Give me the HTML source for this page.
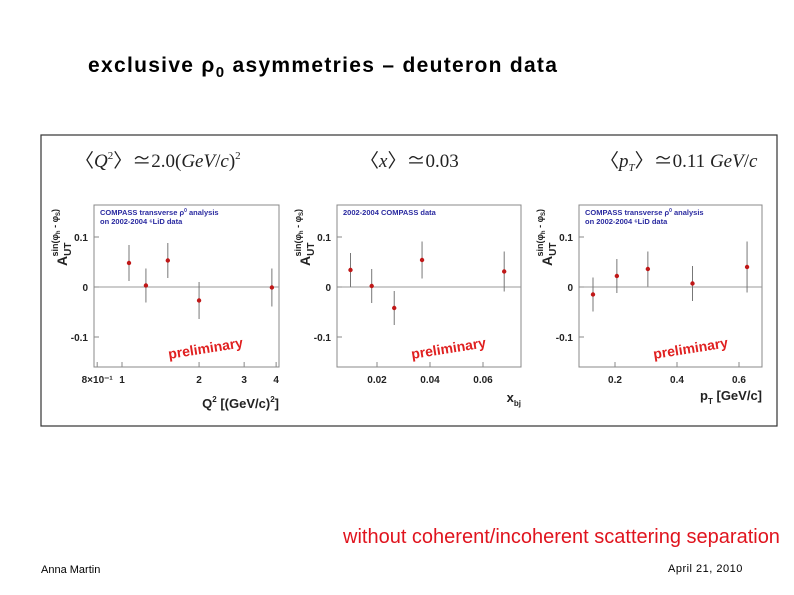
<!DOCTYPE html>
<html><head><meta charset="utf-8"><style>
body{margin:0;background:#fff;}
svg{display:block;font-family:"Liberation Sans",sans-serif;}
</style></head><body>
<svg id="s" width="794" height="595" viewBox="0 0 794 595">
<text x="88" y="72" font-size="21" font-weight="bold" letter-spacing="1.3" fill="#000">exclusive ρ<tspan font-size="15" dy="5">0</tspan><tspan dy="-5"> asymmetries – deuteron data</tspan></text>
<rect x="41" y="135" width="736" height="291" fill="none" stroke="#333" stroke-width="1.2"/>
<g font-family="Liberation Serif,serif" font-size="19" fill="#222">
<text x="75" y="167">〈<tspan font-style="italic">Q</tspan><tspan font-size="11" dy="-8">2</tspan><tspan dy="8">〉≃2.0(</tspan><tspan font-style="italic">GeV</tspan>/<tspan font-style="italic">c</tspan>)<tspan font-size="11" dy="-8">2</tspan></text>
<text x="360" y="167">〈<tspan font-style="italic">x</tspan>〉≃0.03</text>
<text x="600" y="167">〈<tspan font-style="italic">p<tspan font-size="11" dy="4">T</tspan></tspan><tspan dy="-4">〉≃0.11</tspan> <tspan font-style="italic">GeV</tspan>/<tspan font-style="italic">c</tspan></text>
</g>
<g id="panels"></g>
<text x="343" y="543" font-size="20" fill="#e0141e">without coherent/incoherent scattering separation</text>
<text x="41" y="573" font-size="11" fill="#000">Anna Martin</text>
<text x="668" y="572" font-size="11" letter-spacing="0.5" fill="#000">April 21, 2010</text>
</svg>
<script>
// Panel 1: Q2 (log axis)
const q2Values=[1.065,1.24,1.51,2.0,3.85];
const q2Asym=[0.048,0.003,0.053,-0.027,-0.001];
const q2Err=[0.036,0.034,0.035,0.037,0.038];
const q2TickLabels=["8×10⁻¹","1","2","3","4"];
const q2TickValues=[0.8,1,2,3,4];
// Panel 2: xbj
const xValues=[0.0100,0.018,0.0265,0.037,0.068];
const xAsym=[0.034,0.002,-0.042,0.054,0.031];
const xErr=[0.034,0.034,0.034,0.037,0.040];
const xTickValues=[0.02,0.04,0.06];
const xTickLabels=["0.02","0.04","0.06"];
// Panel 3: pT
const ptValues=[0.129,0.206,0.306,0.45,0.626];
const ptAsym=[-0.015,0.022,0.036,0.007,0.040];
const ptErr=[0.034,0.034,0.035,0.035,0.051];
const ptTickValues=[0.2,0.4,0.6];
const ptTickLabels=["0.2","0.4","0.6"];
const yTickValues=[0.1,0,-0.1];
const yTickLabels=["0.1","0","-0.1"];

const NS="http://www.w3.org/2000/svg";
const root=document.getElementById('panels');
function mk(tag,attrs,parent,text){const e=document.createElementNS(NS,tag);for(const k in attrs)e.setAttribute(k,attrs[k]);if(text!==undefined)e.textContent=text;(parent||root).appendChild(e);return e;}

function panel(cfg){
  const g=mk('g',{});
  
  
  const L=cfg.left,R=cfg.right,T=205,B=367;
  const yS=v=>287-v*500;
  const xS=cfg.log? v=>cfg.x0+Math.log10(v/cfg.v0)*cfg.k : v=>cfg.x0+(v-cfg.v0)*cfg.k;
  const fr=mk('rect',{x:L,y:T,width:R-L,height:B-T,fill:'#fff',stroke:'#888','stroke-width':1},g);
  
  
  const zl=mk('line',{x1:L,x2:R,y1:yS(0),y2:yS(0),stroke:'#999','stroke-width':1},g);
  
  
  yTickValues.forEach((v,i)=>{
    const t=mk('text',{x:L-6,y:yS(v)+4,'font-size':10,'font-weight':'bold','text-anchor':'end',fill:'#222'},g,yTickLabels[i]);
    
    
    mk('line',{x1:L,x2:L+5,y1:yS(v),y2:yS(v),stroke:'#888'},g);
  });
  cfg.ticks.forEach((v,i)=>{
    const x=xS(v);
    const t=mk('text',{x:x,y:383,'font-size':10,'font-weight':'bold','text-anchor':'middle',fill:'#222'},g,cfg.tickLabels[i]);
    
    
    mk('line',{x1:x,x2:x,y1:B,y2:B-5,stroke:'#888'},g);
  });
  const yt=mk('text',{transform:`translate(${L-27},266) rotate(-90)`,'font-size':14,'font-weight':'bold',fill:'#222'},g);
  
  
  yt.innerHTML='A<tspan font-size="10" dy="4">UT</tspan><tspan font-size="9" dy="-13" dx="-14">sin(φ</tspan><tspan font-size="6" dy="2">h</tspan><tspan font-size="9" dy="-2"> - φ</tspan><tspan font-size="6" dy="2">S</tspan><tspan font-size="9" dy="-2">)</tspan>';
  const xt=mk('text',{x:R,y:cfg.xtY,'font-size':13,'font-weight':'bold','text-anchor':'end',fill:'#222'},g);
  
  
  xt.innerHTML=cfg.xTitle;
  const info=mk('text',{x:L+6,y:T+10,'font-size':7.5,'font-weight':'bold',fill:'#2a2aa0'},g);
  
  
  info.innerHTML=cfg.info;
  const pr=mk('text',{transform:`translate(${L+75},${B-8}) rotate(-9)`,'font-size':14,'font-weight':'bold',fill:'#e02020'},g,'preliminary');
  
  
  cfg.xs.forEach((v,i)=>{
    const x=xS(v),y=yS(cfg.ys[i]);
    const e=mk('line',{x1:x,x2:x,y1:yS(cfg.ys[i]+cfg.es[i]),y2:yS(cfg.ys[i]-cfg.es[i]),stroke:'#777','stroke-width':1},g);
    
    
    const c=mk('circle',{cx:x,cy:y,r:2.2,fill:'#c01818'},g);
    
    
  });
}
panel({name:'q2',left:94,right:279,log:true,x0:122,v0:1,k:256,ticks:q2TickValues,tickLabels:q2TickLabels,xs:q2Values,ys:q2Asym,es:q2Err,xtY:408,
  xTitle:'Q<tspan font-size="8" dy="-6">2</tspan><tspan dy="6"> [(GeV/c)</tspan><tspan font-size="8" dy="-6">2</tspan><tspan dy="6">]</tspan>',
  info:'COMPASS transverse ρ<tspan font-size="5" dy="-3">0</tspan><tspan dy="3"> analysis</tspan><tspan x="100" dy="9">on 2002-2004 ⁶LiD data</tspan>'});
panel({name:'xbj',left:337,right:521,log:false,x0:377,v0:0.02,k:2650,ticks:xTickValues,tickLabels:xTickLabels,xs:xValues,ys:xAsym,es:xErr,xtY:402,
  xTitle:'x<tspan font-size="8" dy="4">bj</tspan>',
  info:'2002-2004 COMPASS data'});
panel({name:'pt',left:579,right:762,log:false,x0:615,v0:0.2,k:310,ticks:ptTickValues,tickLabels:ptTickLabels,xs:ptValues,ys:ptAsym,es:ptErr,xtY:400,
  xTitle:'p<tspan font-size="8" dy="4">T</tspan><tspan dy="-4"> [GeV/c]</tspan>',
  info:'COMPASS transverse ρ<tspan font-size="5" dy="-3">0</tspan><tspan dy="3"> analysis</tspan><tspan x="585" dy="9">on 2002-2004 ⁶LiD data</tspan>'});
</script>
</body></html>
